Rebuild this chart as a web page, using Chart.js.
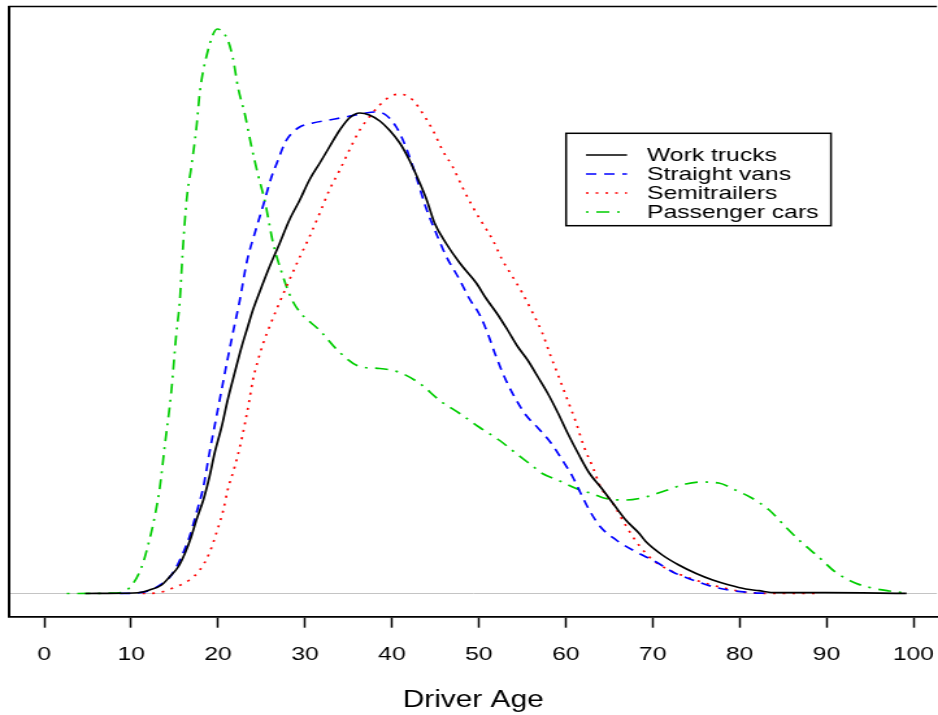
<!DOCTYPE html>
<html>
<head>
<meta charset="utf-8">
<script src="https://cdn.jsdelivr.net/npm/chart.js@4.4.1/dist/chart.umd.min.js"></script>
<style>
  html, body { margin: 0; padding: 0; background: #fff; overflow: hidden; }
  /* the reference is drawn narrow and stretched sideways, so do the same */
  #wrap { width: 722px; height: 715px; transform: scaleX(1.2992); transform-origin: 0 0; }
</style>
</head>
<body>
<div id="wrap"><canvas id="densityChart"></canvas></div>
<script>
// --- DATA ---
const seriesNames = ['Work trucks', 'Straight vans', 'Semitrailers', 'Passenger cars'];
const ageTicks = [0, 10, 20, 30, 40, 50, 60, 70, 80, 90, 100];

const workAges = [4.7, 10.2, 11.3, 12.1, 13.5, 14.4, 15.4, 16.2, 16.9, 17.5, 18.3, 19.0, 19.6, 20.4, 21.1, 21.9, 22.7, 23.4, 24.0, 25.0, 25.9, 27.1, 28.2, 29.4, 30.5, 31.7, 32.8, 34.0, 35.1, 36.3, 37.4, 38.6, 39.7, 40.9, 42.0, 43.2, 44.0, 44.9, 46.2, 47.8, 49.7, 50.8, 52.2, 53.3, 54.5, 55.6, 56.8, 57.9, 59.1, 60.2, 61.4, 62.7, 64.0, 65.4, 66.9, 68.4, 69.2, 71.1, 73.0, 75.0, 76.9, 78.8, 80.7, 82.2, 84.1, 89.9, 99.2];
const workDens = [0, 0.00005, 0.00015, 0.00035, 0.00085, 0.00165, 0.00265, 0.00405, 0.00565, 0.00735, 0.00935, 0.01165, 0.01405, 0.01665, 0.01935, 0.02205, 0.02465, 0.02665, 0.02835, 0.03065, 0.03265, 0.03505, 0.03735, 0.03935, 0.04135, 0.04305, 0.04465, 0.04635, 0.04755, 0.04805, 0.04785, 0.04725, 0.04635, 0.04505, 0.04335, 0.04105, 0.03935, 0.03705, 0.03505, 0.03305, 0.03105, 0.02955, 0.02785, 0.02635, 0.02465, 0.02335, 0.02165, 0.02005, 0.01805, 0.01605, 0.01405, 0.01205, 0.01065, 0.00905, 0.00735, 0.00605, 0.0052, 0.00385, 0.00285, 0.002, 0.00135, 0.00085, 0.00045, 0.00028, 0.00008, 0.00008, 0.00002];

const vanAges = [8.7, 10.6, 12.1, 14.1, 14.8, 15.6, 16.7, 17.5, 18.3, 19.0, 19.8, 20.4, 21.0, 21.7, 22.5, 23.3, 24.4, 25.2, 26.1, 26.9, 27.8, 29.2, 30.9, 32.8, 34.7, 37.0, 38.2, 39.3, 40.5, 41.6, 42.8, 43.9, 45.1, 46.2, 47.8, 48.9, 50.1, 51.0, 52.0, 53.1, 54.3, 55.4, 56.8, 58.3, 59.6, 60.8, 61.7, 62.7, 64.0, 65.8, 68.1, 70.4, 72.3, 74.6, 76.9, 79.2, 81.5, 83.0];
const vanDens = [0, 0.00005, 0.0003, 0.00135, 0.00205, 0.00335, 0.00565, 0.00805, 0.01065, 0.01405, 0.01765, 0.02035, 0.02305, 0.02605, 0.02935, 0.03315, 0.03655, 0.03885, 0.04155, 0.04335, 0.04525, 0.04655, 0.04705, 0.04735, 0.04765, 0.04805, 0.04815, 0.04785, 0.04665, 0.04465, 0.04165, 0.0386, 0.036, 0.0338, 0.03135, 0.0295, 0.02785, 0.02605, 0.02365, 0.02135, 0.01935, 0.01785, 0.01655, 0.01505, 0.01335, 0.01165, 0.01005, 0.00835, 0.00665, 0.00535, 0.00415, 0.00315, 0.00215, 0.00135, 0.00068, 0.00028, 0.00008, 0.00002];

const semiAges = [11.3, 12.9, 14.8, 16.7, 17.9, 19.0, 19.8, 20.6, 21.1, 21.9, 22.5, 23.1, 23.6, 24.0, 24.6, 25.2, 25.9, 26.7, 28.2, 29.4, 30.5, 31.7, 32.8, 34.0, 35.1, 36.3, 37.4, 38.6, 39.7, 40.9, 42.4, 43.5, 44.7, 45.8, 47.0, 48.1, 49.3, 50.4, 51.6, 52.7, 53.9, 55.0, 56.2, 57.3, 58.3, 59.2, 60.2, 61.2, 62.1, 63.1, 64.0, 65.4, 66.9, 68.4, 70.0, 71.9, 73.8, 76.1, 78.4, 80.7, 83.0, 89.1];
const semiDens = [0, 0.00005, 0.00055, 0.00135, 0.00235, 0.00405, 0.00605, 0.00835, 0.01035, 0.01265, 0.01465, 0.01705, 0.01935, 0.02135, 0.02335, 0.02505, 0.02665, 0.02835, 0.03135, 0.03365, 0.03565, 0.03805, 0.04035, 0.04235, 0.04435, 0.04635, 0.04765, 0.04885, 0.04965, 0.04995, 0.04935, 0.04805, 0.04635, 0.04435, 0.04265, 0.04065, 0.03865, 0.03705, 0.03535, 0.03335, 0.03165, 0.03005, 0.02805, 0.02605, 0.02365, 0.02165, 0.01935, 0.01705, 0.01465, 0.01265, 0.01065, 0.00905, 0.0068, 0.00485, 0.00335, 0.00235, 0.00168, 0.00102, 0.00052, 0.00012, 0.00002, 0.00002];

const carAges = [2.6, 8.3, 9.9, 11.2, 12.1, 12.7, 13.3, 13.9, 14.6, 15.2, 15.6, 15.9, 16.4, 16.9, 17.5, 17.9, 18.7, 19.9, 21.1, 21.7, 22.3, 23.1, 23.8, 24.6, 25.4, 26.3, 27.3, 28.4, 29.4, 31.7, 34.0, 36.3, 38.6, 40.9, 43.2, 45.5, 47.8, 50.1, 52.4, 54.3, 56.1, 57.3, 59.2, 61.2, 63.0, 64.6, 66.9, 69.2, 71.5, 73.8, 75.7, 77.6, 79.5, 81.4, 83.4, 85.3, 87.2, 89.1, 91.0, 93.3, 95.2, 97.2, 99.1];
const carDens = [0, 0.00005, 0.00065, 0.00265, 0.00535, 0.00765, 0.01065, 0.01505, 0.02005, 0.02605, 0.02935, 0.03385, 0.03955, 0.04255, 0.04655, 0.05015, 0.05385, 0.05645, 0.05535, 0.05355, 0.05055, 0.04785, 0.04485, 0.04185, 0.03915, 0.03515, 0.03215, 0.02955, 0.02815, 0.0263, 0.0241, 0.0227, 0.0225, 0.0221, 0.021, 0.0193, 0.018, 0.0166, 0.0153, 0.014, 0.0128, 0.012, 0.0113, 0.0105, 0.01, 0.0095, 0.00935, 0.00965, 0.0103, 0.01095, 0.01115, 0.01105, 0.01035, 0.00955, 0.00835, 0.00665, 0.00505, 0.00365, 0.00215, 0.00105, 0.00055, 0.00025, 0.00005];

// --- CHART ---
const toPoints = (ages, dens) => ages.map((a, i) => ({ x: a, y: dens[i] }));

const lineStyle = { pointRadius: 0, borderWidth: 1.7, fill: false, cubicInterpolationMode: 'monotone' };

// frame line along the top of the plot (R box, right side falls off the page)
const frameTop = {
  id: 'frameTop',
  afterDraw(chart) {
    const { ctx, chartArea: a } = chart;
    ctx.save();
    ctx.strokeStyle = '#000';
    ctx.lineWidth = 1.7;
    ctx.beginPath();
    ctx.moveTo(a.left - 1, a.top);
    ctx.lineTo(a.right, a.top);
    ctx.stroke();
    ctx.restore();
  }
};

// legend box inside the plot, like legend() in R
const boxLegend = {
  id: 'boxLegend',
  afterDraw(chart) {
    const c = chart.ctx;
    const box = { l: 435.7, r: 639.6, t: 133.3, b: 225.7 };
    const rows = [155, 174, 193, 212];
    c.save();
    c.fillStyle = '#fff';
    c.fillRect(box.l, box.t, box.r - box.l, box.b - box.t);
    c.strokeStyle = '#000';
    c.lineWidth = 1.5;
    c.setLineDash([]);
    c.strokeRect(box.l, box.t, box.r - box.l, box.b - box.t);
    c.font = '19px "Liberation Sans", Arial, sans-serif';
    c.textBaseline = 'middle';
    chart.data.datasets.forEach((ds, i) => {
      c.strokeStyle = ds.borderColor;
      c.lineWidth = 1.5;
      c.setLineDash(ds.borderDash || []);
      c.beginPath();
      c.moveTo(451, rows[i]);
      c.lineTo(482.6, rows[i]);
      c.stroke();
      c.fillStyle = '#000';
      c.fillText(ds.label, 498, rows[i] + 1);
    });
    c.restore();
  }
};

const ctx = document.getElementById('densityChart').getContext('2d');
const densityChart = new Chart(ctx, {
  type: 'line',
  data: {
    datasets: [
      { ...lineStyle, label: seriesNames[0], data: toPoints(workAges, workDens), borderColor: '#000000' },
      { ...lineStyle, label: seriesNames[1], data: toPoints(vanAges, vanDens), borderColor: '#0000ff', borderDash: [8, 6] },
      { ...lineStyle, label: seriesNames[2], data: toPoints(semiAges, semiDens), borderColor: '#ff0000', borderDash: [2, 5.5] },
      { ...lineStyle, label: seriesNames[3], data: toPoints(carAges, carDens), borderColor: '#00cd00', borderDash: [2, 6, 10, 6] }
    ]
  },
  options: {
    responsive: true,
    maintainAspectRatio: false,
    animation: false,
    layout: { padding: { left: 7.3, top: 6.5, right: 0, bottom: 0 } },
    plugins: { legend: { display: false }, tooltip: { enabled: false } },
    scales: {
      x: {
        type: 'linear',
        min: -4.0,
        max: 102.7,
        afterBuildTicks: s => { s.ticks = ageTicks.map(v => ({ value: v })); },
        afterFit: s => { s.height = 98.3; s.paddingLeft = 0; s.paddingRight = 0; },
        grid: { drawOnChartArea: false, drawTicks: true, tickLength: 11, tickWidth: 1.5, tickColor: '#000' },
        border: { display: true, color: '#000', width: 1.7 },
        ticks: {
          color: '#000',
          font: { family: '"Liberation Sans", Arial, sans-serif', size: 19 },
          padding: 16,
          maxRotation: 0,
          autoSkip: false
        },
        title: {
          display: true,
          text: 'Driver Age',
          color: '#000',
          font: { family: '"Liberation Sans", Arial, sans-serif', size: 23 },
          padding: { top: 0, bottom: 1 }
        }
      },
      y: {
        min: -0.00232,
        max: 0.0587,
        afterBuildTicks: s => { s.ticks = [{ value: 0 }]; },
        afterFit: s => { s.width = 0; },
        ticks: { display: false },
        grid: { color: '#c4c4c4', lineWidth: 1, drawTicks: false },
        border: { display: true, color: '#000', width: 2 }
      }
    }
  },
  plugins: [frameTop, boxLegend]
});
</script>
</body>
</html>
